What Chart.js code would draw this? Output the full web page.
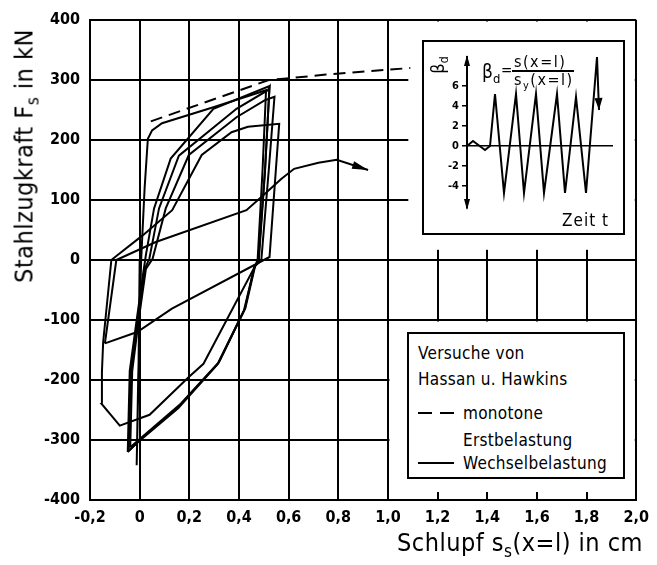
<!DOCTYPE html>
<html lang="de">
<head>
<meta charset="utf-8">
<title>Stahlzugkraft - Schlupf</title>
<script src="https://cdn.jsdelivr.net/npm/chart.js@4.4.1/dist/chart.umd.min.js"></script>
<style>
  body { margin: 0; background: #fff; }
  #blatt { position: relative; width: 657px; height: 565px; color: #000;
           font-family: 'DejaVu Sans Condensed', 'DejaVu Sans', sans-serif; font-stretch: condensed; }
  #hauptDiagramm { position: absolute; left: 0; top: 0; }
  .txt { position: absolute; white-space: nowrap; }
  sub { font-size: 68%; vertical-align: -0.35em; line-height: 0; }
  #yTitel { left: 24px; top: 156px; font-size: 25px; letter-spacing: 0.5px; transform: translate(-50%, -50%) rotate(-90deg); }
  #xTitel { right: 14px; top: 528px; font-size: 25px; letter-spacing: 0.5px; }
  #legende { position: absolute; left: 407px; top: 332px; width: 218px; height: 147px;
             border: 2px solid #000; box-sizing: border-box; background: #fff; font-size: 17px; }
  #legende .txt { line-height: 20px; letter-spacing: 0.3px; }
  .strich { position: absolute; left: 9px; width: 36px; height: 2px; background: #000; }
  .strich.gestrichelt { background: repeating-linear-gradient(to right, #000 0 14px, transparent 14px 22px); }
  #einsatz { position: absolute; left: 422px; top: 40px; width: 203px; height: 195px;
             border: 2px solid #000; box-sizing: border-box; background: #fff; }
  #belastungsDiagramm { position: absolute; left: 0; top: 0; }
  #einsatz .txt { line-height: 16px; }
  #bruchstrich { position: absolute; left: 88px; top: 28px; width: 62px; height: 2px; background: #000; }
</style>
</head>
<body>
<div id="blatt">
  <canvas id="hauptDiagramm" width="657" height="565"></canvas>
  <div id="yTitel" class="txt">Stahlzugkraft F<sub>s</sub> in kN</div>
  <div id="xTitel" class="txt">Schlupf s<sub>s</sub>(x=l) in cm</div>

  <div id="einsatz">
    <canvas id="belastungsDiagramm" width="199" height="191"></canvas>
    <div class="txt" style="left:5px; top:15px; font-size:18px; transform: rotate(-90deg);">β<sub>d</sub></div>
    <div class="txt" style="left:58px; top:21px; font-size:19px;">β<sub>d</sub></div>
    <div class="txt" style="left:77px; top:20px; font-size:15px;">=</div>
    <div class="txt" style="left:90px; top:12px; font-size:16px; letter-spacing:1.5px;">s(x=l)</div>
    <div id="bruchstrich"></div>
    <div class="txt" style="left:90px; top:30px; font-size:16px; letter-spacing:1.5px;">s<sub>y</sub>(x=l)</div>
    <div class="txt" style="left:138px; top:170px; font-size:17px; letter-spacing:1px;">Zeit  t</div>
  </div>

  <div id="legende">
    <span class="txt" style="left:9px; top:9px;">Versuche von</span>
    <span class="txt" style="left:9px; top:35px;">Hassan u. Hawkins</span>
    <div class="strich gestrichelt" style="top:78px;"></div>
    <span class="txt" style="left:54px; top:69px;">monotone</span>
    <span class="txt" style="left:54px; top:96px;">Erstbelastung</span>
    <div class="strich" style="top:128px;"></div>
    <span class="txt" style="left:54px; top:119px;">Wechselbelastung</span>
  </div>
</div>

<script>
// Achsen
const xTicks = [-0.2, 0, 0.2, 0.4, 0.6, 0.8, 1.0, 1.2, 1.4, 1.6, 1.8, 2.0];
const xTickBeschriftung = ['-0,2', '0', '0,2', '0,4', '0,6', '0,8', '1,0', '1,2', '1,4', '1,6', '1,8', '2,0'];
const yTicks = [-400, -300, -200, -100, 0, 100, 200, 300, 400];

// Schlupf [cm], Stahlzugkraft [kN]
const monotoneErstbelastung = [[0.045, 231], [0.52, 300], [0.58, 302], [0.75, 309], [1.09, 320]];
const zyklus1 = [[0, 0], [-0.005, -200], [-0.012, -342], [-0.006, -200], [0.006, 0], [0.02, 120], [0.033, 202],
  [0.05, 216], [0.09, 228], [0.30, 255], [0.509, 283], [0.495, 150], [0.475, 0], [0.46, -15], [0.423, -82],
  [0.317, -172], [0.158, -244], [0.0, -300], [-0.048, -320]];
const zyklus2 = [[-0.048, -320], [-0.04, -185], [-0.012, -100], [0.015, -20], [0.025, 8], [0.058, 86],
  [0.125, 169], [0.297, 252], [0.523, 290], [0.505, 150], [0.478, 0], [0.462, -12], [0.42, -84],
  [0.313, -174], [0.155, -247], [-0.005, -303], [-0.044, -318]];
const zyklus3 = [[-0.044, -318], [-0.035, -185], [-0.008, -100], [0.02, -15], [0.039, 2], [0.078, 86],
  [0.158, 174], [0.39, 252], [0.516, 283], [0.523, 288], [0.505, 150], [0.48, 0], [0.465, -10], [0.426, -80],
  [0.32, -170], [0.162, -241], [0.004, -297], [-0.038, -312]];
const zyklus4 = [[-0.038, -312], [-0.03, -185], [-0.004, -100], [0.025, -15], [0.052, 2], [0.105, 86],
  [0.198, 175], [0.39, 238], [0.503, 266], [0.543, 272], [0.52, 150], [0.49, 0], [0.465, -10], [0.257, -173],
  [0.198, -195], [0.04, -258], [-0.08, -276], [-0.153, -240], [-0.152, -187], [-0.147, -137], [-0.114, 0]];
const zyklus5 = [[-0.114, 0], [-0.09, 8], [0.012, 41], [0.131, 83], [0.25, 175], [0.37, 213], [0.436, 222],
  [0.562, 227], [0.523, 5], [0.13, -81], [-0.01, -120], [-0.14, -139]];
const schlussast = [[-0.14, -139], [-0.094, 0], [0.065, 30], [0.43, 83], [0.49, 105], [0.57, 135],
  [0.622, 152], [0.72, 162], [0.794, 167], [0.92, 150]];

// Belastungsgeschichte im Einsatzbild
const zeitT = [0, 0.6, 1.8, 2.3, 2.8, 3.7, 4.9, 5.7, 6.9, 7.7, 9.0, 9.8, 10.9, 11.9, 13.0, 13.2];
const betaD = [0, 0.5, -0.4, 0, 5.2, -4.7, 5.2, -4.7, 5.2, -4.7, 5.2, -4.7, 4.9, -4.7, 8.9, 3.6];
const betaTicks = [-4, -2, 0, 2, 4, 6];

const schrift = "'DejaVu Sans Condensed', 'DejaVu Sans', sans-serif";
Chart.defaults.font.family = schrift;
Chart.defaults.color = '#000';

function punkte(liste) {
  return liste.map(([x, y]) => ({ x: x, y: y }));
}

function linie(liste, extra) {
  return Object.assign({
    data: punkte(liste),
    showLine: true,
    pointRadius: 0,
    borderColor: '#000',
    borderWidth: 2,
    fill: false
  }, extra || {});
}

function pfeilspitze(ctx, x0, y0, x1, y1, laenge, breite) {
  const w = Math.atan2(y1 - y0, x1 - x0);
  ctx.beginPath();
  ctx.moveTo(x1, y1);
  ctx.lineTo(x1 - laenge * Math.cos(w) + breite * Math.sin(w), y1 - laenge * Math.sin(w) - breite * Math.cos(w));
  ctx.lineTo(x1 - laenge * Math.cos(w) - breite * Math.sin(w), y1 - laenge * Math.sin(w) + breite * Math.cos(w));
  ctx.closePath();
  ctx.fill();
}

// Pfeil am Ende der markierten Linien
const pfeile = {
  id: 'pfeile',
  afterDatasetsDraw(chart) {
    const ctx = chart.ctx;
    ctx.save();
    ctx.fillStyle = '#000';
    chart.data.datasets.forEach((ds, i) => {
      if (!ds.pfeil) return;
      const p = chart.getDatasetMeta(i).data;
      const a = p[p.length - 2], b = p[p.length - 1];
      pfeilspitze(ctx, a.x, a.y, b.x, b.y, ds.pfeil, 4);
    });
    ctx.restore();
  }
};

// Raster hinter Einsatzbild und Legende freistellen
const aussparung = {
  id: 'aussparung',
  beforeDatasetsDraw(chart) {
    const { ctx, chartArea: a, scales: { x, y } } = chart;
    ctx.save();
    ctx.fillStyle = '#fff';
    const l1 = x.getPixelForValue(1.082);
    const u1 = y.getPixelForValue(17);
    ctx.fillRect(l1, a.top + 1.5, a.right - 1.5 - l1, u1 - a.top - 1.5);
    const l2 = x.getPixelForValue(1.0) + 1.5;
    const o2 = y.getPixelForValue(-100) + 1.5;
    ctx.fillRect(l2, o2, a.right - 1.5 - l2, a.bottom - 8 - o2);
    ctx.restore();
  }
};

new Chart(document.getElementById('hauptDiagramm'), {
  type: 'scatter',
  data: {
    datasets: [
      linie(monotoneErstbelastung, { borderDash: [12, 7] }),
      linie(zyklus1),
      linie(zyklus2),
      linie(zyklus3),
      linie(zyklus4),
      linie(zyklus5),
      linie(schlussast, { pfeil: 16 })
    ]
  },
  options: {
    responsive: false,
    animation: false,
    events: [],
    layout: { padding: { top: 20, right: 14, left: 0, bottom: 0 } },
    plugins: { legend: { display: false }, tooltip: { enabled: false } },
    scales: {
      x: {
        type: 'linear',
        min: -0.2,
        max: 2.0,
        afterBuildTicks: s => { s.ticks = xTicks.map(v => ({ value: v })); },
        afterFit: s => { s.height = 65; },
        ticks: {
          callback: (v, i) => xTickBeschriftung[i],
          font: { size: 16, weight: 'bold' },
          padding: 8,
          maxRotation: 0
        },
        grid: { color: '#000', lineWidth: 2, drawTicks: false },
        border: { color: '#000', width: 2 }
      },
      y: {
        min: -400,
        max: 400,
        afterBuildTicks: s => { s.ticks = yTicks.map(v => ({ value: v })); },
        afterFit: s => { s.width = 90; },
        ticks: {
          font: { size: 16, weight: 'bold' },
          padding: 10
        },
        grid: { color: '#000', lineWidth: 2, drawTicks: false },
        border: { color: '#000', width: 2 }
      }
    }
  },
  plugins: [aussparung, pfeile]
});

// Achsenpfeile im Einsatzbild
const achsenpfeile = {
  id: 'achsenpfeile',
  afterDraw(chart) {
    const { ctx, chartArea: a } = chart;
    ctx.save();
    ctx.fillStyle = '#000';
    pfeilspitze(ctx, a.left, a.top + 20, a.left, a.top - 2, 11, 3);
    pfeilspitze(ctx, a.left, a.bottom - 20, a.left, a.bottom + 2, 11, 3);
    ctx.restore();
  }
};

new Chart(document.getElementById('belastungsDiagramm'), {
  type: 'scatter',
  data: {
    datasets: [
      linie(zeitT.map((t, i) => [t, betaD[i]]), { pfeil: 12 })
    ]
  },
  options: {
    responsive: false,
    animation: false,
    events: [],
    layout: { padding: { top: 15, right: 10, left: 0, bottom: 25 } },
    plugins: { legend: { display: false }, tooltip: { enabled: false } },
    scales: {
      x: { type: 'linear', min: 0, max: 14.6, display: false },
      y: {
        min: -6.2,
        max: 8.9,
        afterBuildTicks: s => { s.ticks = betaTicks.map(v => ({ value: v })); },
        afterFit: s => { s.width = 43; },
        ticks: { font: { size: 11, weight: 'bold' }, padding: 3 },
        grid: {
          color: c => (c.tick && c.tick.value === 0 ? '#000' : 'rgba(0,0,0,0)'),
          tickColor: '#000',
          lineWidth: 1.5,
          tickLength: 5
        },
        border: { color: '#000', width: 2 }
      }
    }
  },
  plugins: [pfeile, achsenpfeile]
});
</script>
</body>
</html>
